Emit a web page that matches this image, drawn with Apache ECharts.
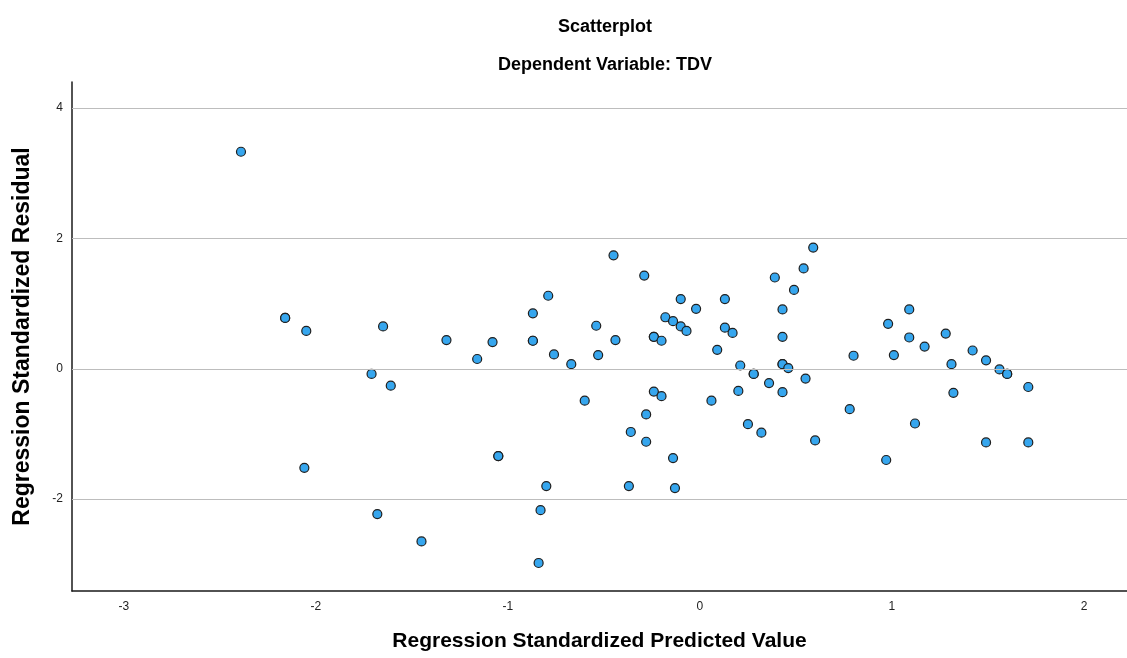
<!DOCTYPE html>
<html>
<head>
<meta charset="utf-8">
<script src="https://cdn.jsdelivr.net/npm/echarts@6/dist/echarts.min.js"></script>
<style>html,body{margin:0;padding:0;background:#fff;}#chart{width:1127px;height:658px;}</style>
</head>
<body>
<div id="chart"></div>
<script>
// Regression standardized predicted values (x)
const predicted = [
  -2.39, -2.16, -2.16, -2.05, -2.06, -1.65, -1.71, -1.61, -1.68, -1.45,
  -1.32, -1.16, -1.08, -1.05, -1.05, -0.87, -0.87, -0.87, -0.79, -0.76,
  -0.67, -0.60, -0.80, -0.83, -0.84, -0.54, -0.53, -0.45, -0.44, -0.36,
  -0.37, -0.29, -0.28, -0.28, -0.24, -0.24, -0.20, -0.24, -0.20, -0.18,
  -0.14, -0.14, -0.13, -0.10, -0.10, -0.07, -0.02, 0.06, 0.09, 0.13,
  0.13, 0.17, 0.21, 0.20, 0.25, 0.32, 0.28, 0.28, 0.36, 0.39,
  0.43, 0.43, 0.43, 0.43, 0.46, 0.43, 0.49, 0.54, 0.55, 0.59,
  0.60, 0.80, 0.78, 0.98, 1.01, 0.97, 1.09, 1.09, 1.12, 1.17,
  1.28, 1.31, 1.32, 1.42, 1.49, 1.49, 1.56, 1.60, 1.60, 1.71,
  1.71
];
// Regression standardized residuals (y)
const residual = [
  3.33, 0.78, 0.78, 0.58, -1.52, 0.65, -0.08, -0.26, -2.23, -2.65,
  0.44, 0.15, 0.41, -1.34, -1.34, 0.85, 0.43, 0.43, 1.12, 0.22,
  0.07, -0.49, -1.80, -2.17, -2.98, 0.66, 0.21, 1.74, 0.44, -0.97,
  -1.80, 1.43, -0.70, -1.12, 0.49, 0.49, 0.43, -0.35, -0.42, 0.79,
  0.73, -1.37, -1.83, 1.07, 0.65, 0.58, 0.92, -0.49, 0.29, 1.07,
  0.63, 0.55, 0.05, -0.34, -0.85, -0.98, -0.08, -0.08, -0.22, 1.40,
  0.91, 0.49, 0.07, 0.07, 0.01, -0.36, 1.21, 1.54, -0.15, 1.86,
  -1.10, 0.20, -0.62, 0.69, 0.21, -1.40, 0.91, 0.48, -0.84, 0.34,
  0.54, 0.07, -0.37, 0.28, 0.13, -1.13, -0.01, -0.08, -0.08, -0.28,
  -1.13
];
const xTicks = [-3, -2, -1, 0, 1, 2];
const yTicks = [-2, 0, 2, 4];
const titleText = 'Scatterplot';
const subtitleText = 'Dependent Variable: TDV';
const xTitle = 'Regression Standardized Predicted Value';
const yTitle = 'Regression Standardized Residual';

const FONT = '"Liberation Sans", Arial, sans-serif';
const chart = echarts.init(document.getElementById('chart'), null, {renderer: 'canvas'});
const points = predicted.map((x, i) => [x, residual[i]]);

chart.setOption({
  backgroundColor: '#ffffff',
  animation: false,
  grid: {left: 72, right: 0, top: 82, bottom: 67, containLabel: false},
  title: [
    {text: titleText, left: 600, top: 13, textAlign: 'center',
     textStyle: {fontFamily: FONT, fontWeight: 'bold', fontSize: 18, color: '#000'}},
    {text: subtitleText, left: 600, top: 51, textAlign: 'center',
     textStyle: {fontFamily: FONT, fontWeight: 'bold', fontSize: 18, color: '#000'}}
  ],
  xAxis: {
    type: 'value', min: -3.27, max: 2.224,
    name: xTitle, nameLocation: 'middle', nameGap: 40,
    nameTextStyle: {fontFamily: FONT, fontWeight: 'bold', fontSize: 21, color: '#000'},
    axisLine: {show: true, onZero: false, lineStyle: {color: '#1a1a1a', width: 1.5}},
    axisTick: {show: false},
    splitLine: {show: false},
    axisLabel: {customValues: xTicks, fontFamily: FONT, fontSize: 12, color: '#222', margin: 10}
  },
  yAxis: {
    type: 'value', min: -3.41, max: 4.40,
    name: yTitle, nameLocation: 'middle', nameGap: 38,
    nameTextStyle: {fontFamily: FONT, fontWeight: 'bold', fontSize: 23, color: '#000'},
    axisLine: {show: true, onZero: false, lineStyle: {color: '#1a1a1a', width: 1.5}},
    axisTick: {show: false},
    splitLine: {show: false},
    axisLabel: {customValues: yTicks, fontFamily: FONT, fontSize: 12, color: '#222', margin: 9}
  },
  series: [
    {
      type: 'line', data: [], z: 1, silent: true,
      markLine: {
        silent: true, symbol: 'none', animation: false,
        label: {show: false},
        lineStyle: {color: '#bdbdbd', width: 1.2, type: 'solid'},
        data: yTicks.map(v => ({yAxis: v}))
      }
    },
    {
      type: 'scatter', z: 3, data: points, symbol: 'circle', symbolSize: 9,
      itemStyle: {color: '#36a6ee', borderColor: '#1f1f1f', borderWidth: 1.2, opacity: 1}
    }
  ]
});
</script>
</body>
</html>
